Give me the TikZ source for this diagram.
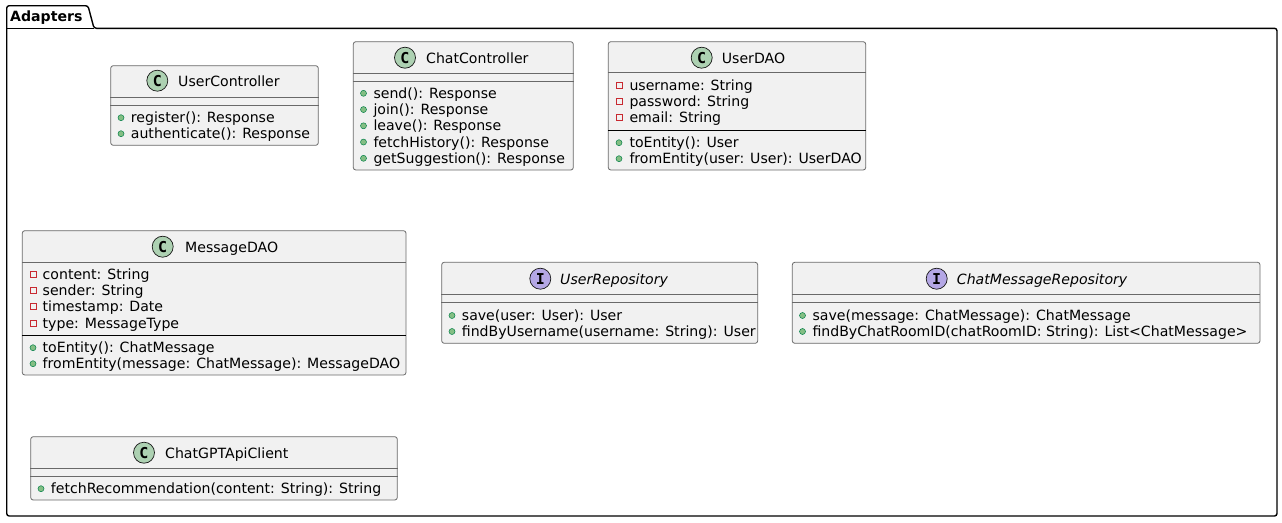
\documentclass[tikz,border=0pt]{standalone}
\usepackage{fontspec}
\setmainfont{DejaVu Sans}
\setmonofont{DejaVu Sans Mono}
\usetikzlibrary{positioning}
\definecolor{boxfill}{HTML}{F1F1F1}
\definecolor{boxline}{HTML}{181818}
\definecolor{classc}{HTML}{ADD1B2}
\definecolor{ifacec}{HTML}{B4A7E5}
\definecolor{pubfill}{HTML}{84BE84}
\definecolor{publine}{HTML}{038048}
\definecolor{privline}{HTML}{C82930}
\tikzset{
  pkg/.style={draw=black,line width=1.4pt,rounded corners=2.5pt},
  pkgname/.style={font=\fontsize{14.1}{16}\selectfont\bfseries,inner sep=0pt,anchor=base west},
  cls/.style={draw=boxline!65,fill=boxfill,rounded corners=2.5pt,line width=0.8pt,inner sep=0pt},
  divider/.style={draw=boxline!65,line width=0.8pt},
  hdivider/.style={draw=black,line width=1pt},
  badge/.style={circle,draw=boxline,fill=#1,line width=0.7pt,minimum size=21pt,inner sep=0pt,
                font=\fontsize{15}{15}\selectfont\ttfamily\bfseries},
  badge/.default=classc,
  ctitle/.style={font=\fontsize{14.1}{16}\selectfont,inner sep=0pt,anchor=base west},
  ititle/.style={ctitle,font=\fontsize{14.1}{16}\selectfont\itshape},
  mem/.style={font=\fontsize{14.1}{16}\selectfont,inner sep=0pt,anchor=base west},
  pub/.style={circle,fill=pubfill,draw=publine,line width=0.5pt,minimum size=6pt,inner sep=0pt},
  priv/.style={rectangle,draw=privline,line width=0.9pt,minimum size=6pt,inner sep=0pt},
}
\begin{document}
\begin{tikzpicture}[x=1pt,y=-1pt]
  \useasboundingbox (0,0) rectangle (1282,522);
  % package frame
  \draw[pkg] (6.7,516) -- (6.7,5.7) -- (88,5.7) -- (94,28.3) -- (1277,28.3) -- (1277,516) -- cycle;
  \draw[pkg,rounded corners=0pt] (6.7,28.3) -- (94,28.3);
  \node[pkgname] (adapters) at (10,21) {Adapters};

  % UserController
  \node[cls,minimum width=207.6pt,minimum height=79.6pt] (uc) at (214.5,105.5) {};
  \node[badge] (uc-icon) at (157.3,80.7) {C};
  \node[ctitle] (uc-title) at (178,86) {UserController};
  \draw[divider] (uc.west |- 0,97.3) -- (uc.east |- 0,97.3);
  \draw[divider] (uc.west |- 0,105.3) -- (uc.east |- 0,105.3);
  \foreach \t [count=\i from 0] in {register(): Response, authenticate(): Response}{
    \node[pub] (uc-b\i) at (121,117.7+16*\i) {};
    \node[mem] (uc-m\i) at (130.7,122.7+16*\i) {\t};
  }

  % ChatController
  \node[cls,minimum width=220pt,minimum height=128.3pt] (cc) at (463.3,105.85) {};
  \node[badge] (cc-icon) at (405,57.7) {C};
  \node[ctitle] (cc-title) at (426,63) {ChatController};
  \draw[divider] (cc.west |- 0,73.3) -- (cc.east |- 0,73.3);
  \draw[divider] (cc.west |- 0,81.7) -- (cc.east |- 0,81.7);
  \foreach \t [count=\i from 0] in {send(): Response, join(): Response, leave(): Response,
      fetchHistory(): Response, getSuggestion(): Response}{
    \node[pub] (cc-b\i) at (363.5,93.3+16.25*\i) {};
    \node[mem] (cc-m\i) at (373.3,98.3+16.25*\i) {\t};
  }

  % UserDAO
  \node[cls,minimum width=257.4pt,minimum height=128.3pt] (ud) at (737,105.85) {};
  \node[badge] (ud-icon) at (701.7,57.7) {C};
  \node[ctitle] (ud-title) at (721.7,63) {UserDAO};
  \draw[divider] (ud.west |- 0,72.7) -- (ud.east |- 0,72.7);
  \foreach \t [count=\i from 0] in {username: String, password: String, email: String}{
    \node[priv] (ud-a\i) at (619,85.7+16*\i) {};
    \node[mem] (ud-f\i) at (629.3,90.7+16*\i) {\t};
  }
  \draw[hdivider] (ud.west |- 0,130) -- (ud.east |- 0,130);
  \foreach \t [count=\i from 0] in {toEntity(): User, fromEntity(user: User): UserDAO}{
    \node[pub] (ud-b\i) at (619,142.7+16*\i) {};
    \node[mem] (ud-m\i) at (629.3,147.7+16*\i) {\t};
  }

  % MessageDAO
  \node[cls,minimum width=383.7pt,minimum height=144.3pt] (md) at (214.15,302.85) {};
  \node[badge] (md-icon) at (162.7,246.7) {C};
  \node[ctitle] (md-title) at (185,252) {MessageDAO};
  \draw[divider] (md.west |- 0,262.3) -- (md.east |- 0,262.3);
  \foreach \t [count=\i from 0] in {content: String, sender: String, timestamp: Date, type: MessageType}{
    \node[priv] (md-a\i) at (33,274.7+16.1*\i) {};
    \node[mem] (md-f\i) at (42.5,279.7+16.1*\i) {\t};
  }
  \draw[hdivider] (md.west |- 0,335) -- (md.east |- 0,335);
  \foreach \t [count=\i from 0] in {toEntity(): ChatMessage, fromEntity(message: ChatMessage): MessageDAO}{
    \node[pub] (md-b\i) at (33,347.7+16*\i) {};
    \node[mem] (md-m\i) at (42.5,352.7+16*\i) {\t};
  }

  % UserRepository
  \node[cls,minimum width=316pt,minimum height=81pt] (ur) at (599.7,302.8) {};
  \node[badge=ifacec] (ur-icon) at (540.3,278.7) {I};
  \node[ititle] (ur-title) at (560,284) {UserRepository};
  \draw[divider] (ur.west |- 0,294.3) -- (ur.east |- 0,294.3);
  \draw[divider] (ur.west |- 0,302.3) -- (ur.east |- 0,302.3);
  \foreach \t [count=\i from 0] in {save(user: User): User, findByUsername(username: String): User}{
    \node[pub] (ur-b\i) at (452,315.5+16*\i) {};
    \node[mem] (ur-m\i) at (461.7,320.5+16*\i) {\t};
  }

  % ChatMessageRepository
  \node[cls,minimum width=467.7pt,minimum height=81pt] (cr) at (1026.15,302.8) {};
  \node[badge=ifacec] (cr-icon) at (936.7,278.7) {I};
  \node[ititle] (cr-title) at (956.7,284) {ChatMessageRepository};
  \draw[divider] (cr.west |- 0,294.3) -- (cr.east |- 0,294.3);
  \draw[divider] (cr.west |- 0,302.3) -- (cr.east |- 0,302.3);
  \foreach \t [count=\i from 0] in {save(message: ChatMessage): ChatMessage,
      findByChatRoomID(chatRoomID: String): List<ChatMessage>}{
    \node[pub] (cr-b\i) at (802.5,315.5+16*\i) {};
    \node[mem] (cr-m\i) at (812.3,320.5+16*\i) {\t};
  }

  % ChatGPTApiClient
  \node[cls,minimum width=366.6pt,minimum height=63.3pt] (gc) at (214,468.35) {};
  \node[badge] (gc-icon) at (144,452.7) {C};
  \node[ctitle] (gc-title) at (165,458) {ChatGPTApiClient};
  \draw[divider] (gc.west |- 0,468.3) -- (gc.east |- 0,468.3);
  \draw[divider] (gc.west |- 0,476.7) -- (gc.east |- 0,476.7);
  \node[pub] (gc-b0) at (41,488.7) {};
  \node[mem] (gc-m0) at (50.7,493.7) {fetchRecommendation(content: String): String};
\end{tikzpicture}
\end{document}
